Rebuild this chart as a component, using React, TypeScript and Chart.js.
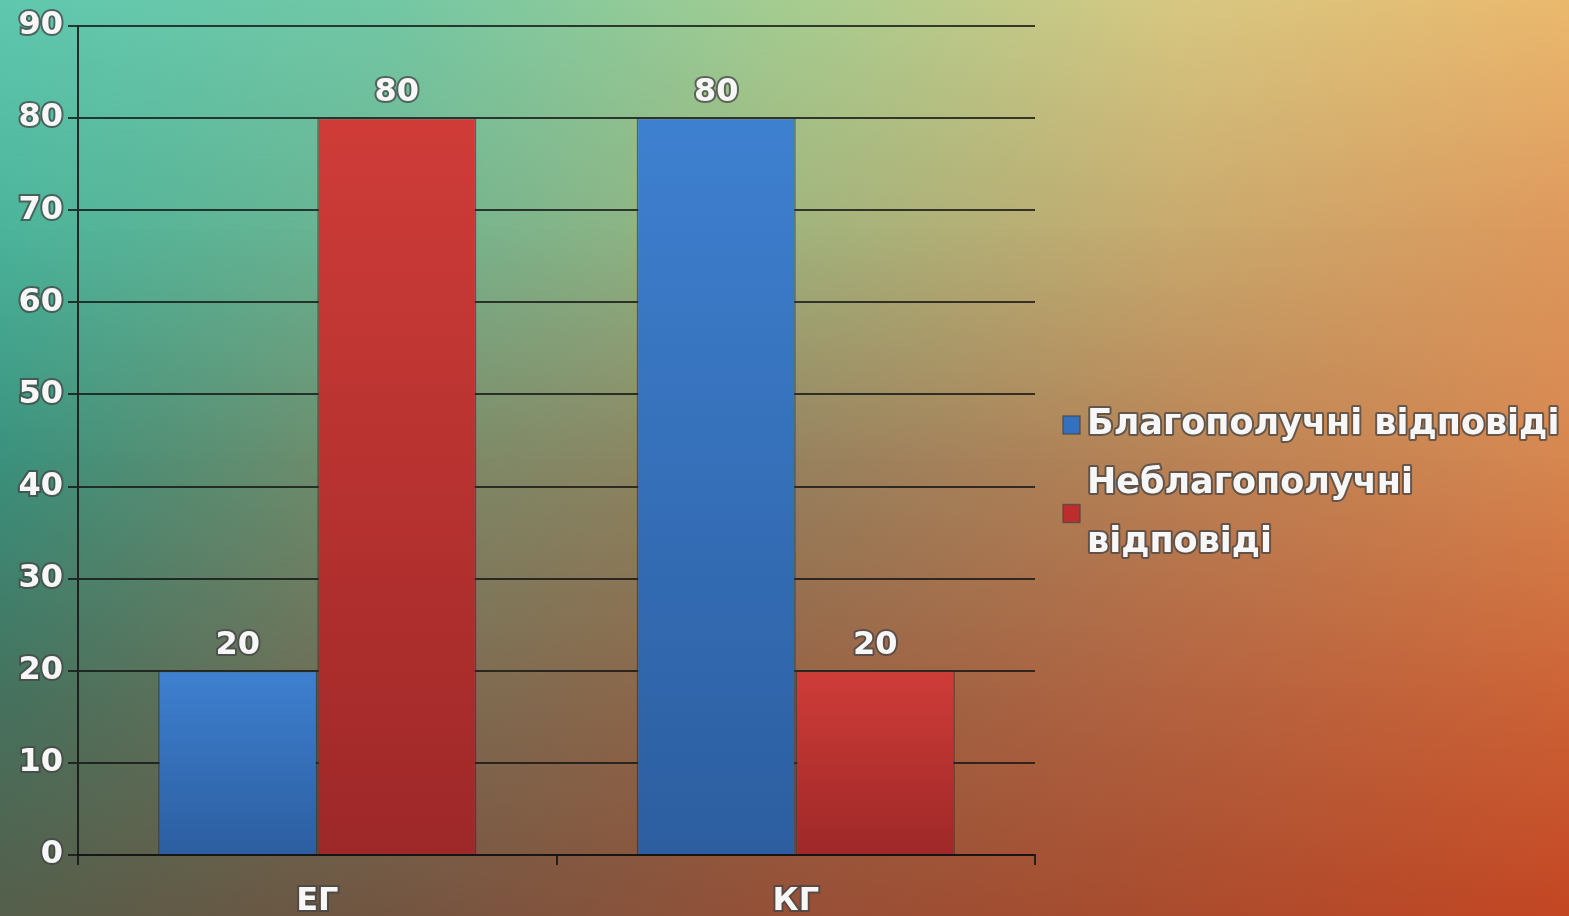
import React, { useEffect, useRef } from 'react';
import { Chart, registerables } from 'chart.js';

Chart.register(...registerables);

// ---- data ----
const categories = ['ЕГ', 'КГ'];
const seriesLabels = ['Благополучні відповіді', 'Неблагополучні відповіді'];
const favorable = [20, 80];
const unfavorable = [80, 20];
const yMin = 0;
const yMax = 90;
const yStep = 10;

// ---- styles ----
const FONT = "'DejaVu Sans', 'Open Sans', sans-serif";
const BLUE_TOP = 'rgb(62,128,208)';
const BLUE_BOTTOM = 'rgb(44,94,160)';
const RED_TOP = 'rgb(207,60,56)';
const RED_BOTTOM = 'rgb(158,40,40)';
const TEXT_FILL = '#f7f7f7';
const TEXT_STROKE = 'rgba(70,70,70,0.75)';

const W = 1569;
const H = 916;
const CANVAS_H = 940;

const bgRows = [
  ['rgb(95,200,175)', 'rgb(115,200,165)', 'rgb(165,205,145)', 'rgb(215,200,130)', 'rgb(235,185,110)'],
  ['rgb(75,180,155)', 'rgb(110,180,145)', 'rgb(160,180,125)', 'rgb(200,170,110)', 'rgb(222,152,92)'],
  ['rgb(58,145,125)', 'rgb(120,140,105)', 'rgb(150,130,95)', 'rgb(185,130,85)', 'rgb(215,135,80)'],
  ['rgb(68,115,95)', 'rgb(120,110,85)', 'rgb(150,100,70)', 'rgb(180,100,65)', 'rgb(205,100,55)'],
  ['rgb(85,95,75)', 'rgb(115,85,65)', 'rgb(150,80,55)', 'rgb(170,75,45)', 'rgb(195,70,35)'],
];

function barGradient(top: string, bottom: string) {
  return (ctx: any) => {
    const chart = ctx.chart;
    const y = chart.scales && chart.scales.y;
    if (!chart.chartArea || !y || ctx.raw == null) return top;
    const y1 = y.getPixelForValue(ctx.raw);
    const y0 = y.getPixelForValue(0);
    if (!isFinite(y1) || !isFinite(y0) || y1 === y0) return top;
    const g = chart.ctx.createLinearGradient(0, y1, 0, y0);
    g.addColorStop(0, top);
    g.addColorStop(1, bottom);
    return g;
  };
}

function outlinedText(c: CanvasRenderingContext2D, text: string, x: number, y: number) {
  c.lineJoin = 'round';
  c.lineWidth = 4;
  c.strokeStyle = TEXT_STROKE;
  c.strokeText(text, x, y);
  c.fillStyle = TEXT_FILL;
  c.fillText(text, x, y);
}

const valueLabelsPlugin = {
  id: 'valueLabels',
  afterDatasetsDraw(chart: any) {
    const c = chart.ctx as CanvasRenderingContext2D;
    c.save();
    c.font = `bold 32px ${FONT}`;
    c.textAlign = 'center';
    c.textBaseline = 'alphabetic';
    chart.data.datasets.forEach((ds: any, i: number) => {
      const meta = chart.getDatasetMeta(i);
      meta.data.forEach((bar: any, j: number) => {
        outlinedText(c, String(ds.data[j]), bar.x, bar.y - 17);
      });
    });
    c.restore();
  },
};

const sideLegendPlugin = {
  id: 'sideLegend',
  afterDraw(chart: any) {
    const c = chart.ctx as CanvasRenderingContext2D;
    const area = chart.chartArea;
    const boxX = area.right + 28;
    const textX = boxX + 24;
    const maxW = chart.width - textX;
    const lineH = 59;
    c.save();
    c.font = `bold 35px ${FONT}`;
    const items = chart.data.datasets.map((ds: any) => {
      const words = String(ds.label).split(' ');
      const lines: string[] = [];
      let cur = '';
      words.forEach((w: string) => {
        const test = cur ? cur + ' ' + w : w;
        if (c.measureText(test).width > maxW && cur) {
          lines.push(cur);
          cur = w;
        } else cur = test;
      });
      if (cur) lines.push(cur);
      return { lines, color: ds.legendColor };
    });
    const total = items.reduce((s: number, it: any) => s + it.lines.length, 0);
    let y = 484 - (total * lineH) / 2;
    c.textAlign = 'left';
    c.textBaseline = 'middle';
    items.forEach((it: any) => {
      const h = it.lines.length * lineH;
      const cy = y + h / 2;
      c.fillStyle = it.color;
      c.fillRect(boxX, cy - 9, 17, 18);
      c.lineWidth = 1.5;
      c.strokeStyle = 'rgba(70,70,70,0.7)';
      c.strokeRect(boxX, cy - 9, 17, 18);
      it.lines.forEach((ln: string, k: number) => {
        outlinedText(c, ln, textX, y + lineH * k + lineH / 2);
      });
      y += h;
    });
    c.restore();
  },
};

export default function App() {
  const ref = useRef<HTMLCanvasElement | null>(null);

  useEffect(() => {
    let chart: Chart | null = null;
    let cancelled = false;
    const make = () => {
      if (cancelled || !ref.current) return;
      chart = new Chart(ref.current, {
        type: 'bar',
        data: {
          labels: categories,
          datasets: [
            {
              label: seriesLabels[0],
              data: favorable,
              backgroundColor: barGradient(BLUE_TOP, BLUE_BOTTOM),
              borderColor: 'rgba(45,45,45,0.6)',
              borderWidth: 1.5,
              legendColor: 'rgb(52,112,192)',
            } as any,
            {
              label: seriesLabels[1],
              data: unfavorable,
              backgroundColor: barGradient(RED_TOP, RED_BOTTOM),
              borderColor: 'rgba(45,45,45,0.6)',
              borderWidth: 1.5,
              legendColor: 'rgb(190,45,45)',
            } as any,
          ],
        },
        options: {
          responsive: false,
          animation: false,
          layout: { padding: { top: 26, right: W - 1035, left: 0, bottom: 0 } },
          plugins: {
            legend: { display: false },
            tooltip: { enabled: false },
          },
          datasets: {
            bar: { categoryPercentage: 0.665, barPercentage: 1 },
          },
          scales: {
            x: {
              offset: true,
              grid: {
                offset: true,
                drawOnChartArea: false,
                drawTicks: true,
                tickLength: 10,
                color: 'rgba(20,20,20,0.85)',
                lineWidth: 2,
              },
              border: { display: true, color: 'rgba(20,20,20,0.85)', width: 2 },
              ticks: {
                color: TEXT_FILL,
                font: { family: FONT, size: 32, weight: 'bold' as any },
                padding: 17,
                textStrokeColor: TEXT_STROKE,
                textStrokeWidth: 4,
              } as any,
              afterFit(scale: any) {
                scale.height = CANVAS_H - 855;
              },
            },
            y: {
              min: yMin,
              max: yMax,
              ticks: {
                stepSize: yStep,
                color: TEXT_FILL,
                font: { family: FONT, size: 32, weight: 'bold' as any },
                padding: 5,
                textStrokeColor: TEXT_STROKE,
                textStrokeWidth: 4,
              } as any,
              grid: {
                color: 'rgba(20,20,20,0.8)',
                lineWidth: 2,
                tickLength: 10,
                drawTicks: true,
              },
              border: { display: true, color: 'rgba(20,20,20,0.85)', width: 2 },
              afterFit(scale: any) {
                scale.width = 78;
              },
            },
          },
        },
        plugins: [valueLabelsPlugin, sideLegendPlugin],
      });
    };
    const fl = (document as any).fonts;
    if (fl && fl.load) {
      fl.load(`bold 32px 'DejaVu Sans'`).then(make, make);
    } else make();
    return () => {
      cancelled = true;
      if (chart) chart.destroy();
    };
  }, []);

  const layers = bgRows.map((row, k) => {
    const style: React.CSSProperties = {
      position: 'absolute',
      inset: 0,
      background: `linear-gradient(to right, ${row.join(', ')})`,
    };
    if (k > 0) {
      const m = `linear-gradient(to bottom, transparent ${(k - 1) * 25}%, black ${k * 25}%)`;
      (style as any).maskImage = m;
      (style as any).WebkitMaskImage = m;
    }
    return <div key={k} style={style} />;
  });

  return (
    <div
      style={{
        position: 'fixed',
        left: 0,
        top: 0,
        width: W,
        height: H,
        overflow: 'hidden',
      }}
    >
      {layers}
      <canvas
        ref={ref}
        width={W}
        height={CANVAS_H}
        style={{ position: 'absolute', left: 0, top: 0, width: W, height: CANVAS_H }}
      />
    </div>
  );
}
